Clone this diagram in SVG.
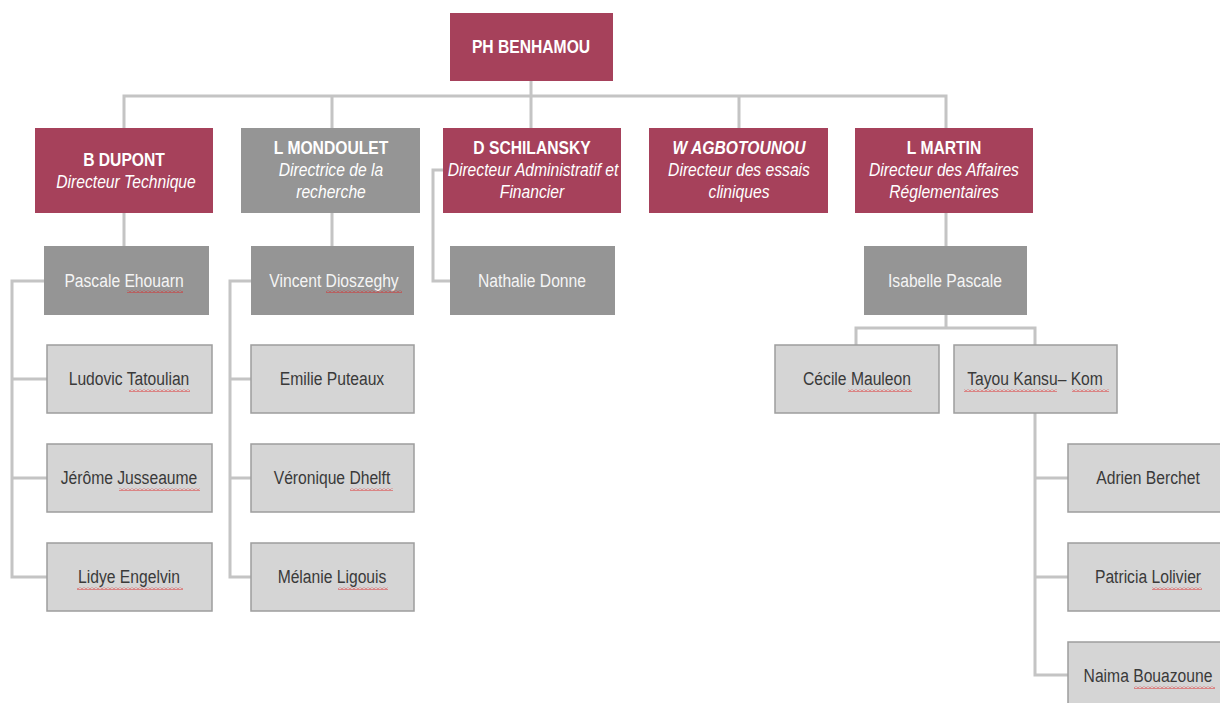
<svg xmlns="http://www.w3.org/2000/svg" width="1220" height="703" viewBox="0 0 1220 703">
<defs>
<style>
.crim{fill:#a6415b;}
.dgray{fill:#959595;}
.lbox{fill:#d5d5d5;stroke:#9d9d9d;stroke-width:1.5;}
.conn{fill:none;stroke:#c4c4c4;stroke-width:3;}
text{font-family:"Liberation Sans",Arial,sans-serif;text-anchor:middle;}
.nm{font-size:18px;font-weight:bold;fill:#ffffff;}
.sub{font-size:18px;font-style:italic;fill:#ffffff;}
.wt{font-size:18px;fill:#f4f4f4;}
.dk{font-size:18px;fill:#3a3a3a;}
</style>
<pattern id="sq" x="0" y="0" width="4" height="3" patternUnits="userSpaceOnUse">
<path d="M0 2.5 L2 0.5 L4 2.5" fill="none" stroke="#e02020" stroke-width="0.9"/>
</pattern>
</defs>
<rect width="1220" height="703" fill="#ffffff"/>
<g id="connectors">
<path class="conn" d="M531 81 V128 M124 128 V96 H946 V128 M332 96 V128 M739 96 V128"/>
<path class="conn" d="M124 213 V246 M332 213 V246 M946 213 V246"/>
<path class="conn" d="M443 170 H433 V281 H450"/>
<path class="conn" d="M44 281 H12 V577 H47 M12 379 H47 M12 478 H47"/>
<path class="conn" d="M251 281 H230 V577 H251 M230 379 H251 M230 478 H251"/>
<path class="conn" d="M946 315 V328 M856 345 V328 H1035 V345"/>
<path class="conn" d="M1035 413 V675 H1068 M1035 478 H1068 M1035 577 H1068"/>
</g>
<g id="ph-benhamou"><rect class="crim" x="450" y="13" width="163" height="68"/><text class="nm" transform="translate(531 53) scale(0.87 1)">PH BENHAMOU</text></g>
<g id="b-dupont"><rect class="crim" x="35" y="128" width="178" height="85"/><text class="nm" transform="translate(124 166) scale(0.87 1)">B DUPONT</text><text class="sub" transform="translate(126 188) scale(0.87 1)">Directeur Technique</text></g>
<g id="l-mondoulet"><rect class="dgray" x="241" y="128" width="179" height="85"/><text class="nm" transform="translate(331 154) scale(0.87 1)">L MONDOULET</text><text class="sub" transform="translate(331 176) scale(0.87 1)">Directrice de la</text><text class="sub" transform="translate(331 198) scale(0.87 1)">recherche</text></g>
<g id="d-schilansky"><rect class="crim" x="443" y="128" width="178" height="85"/><text class="nm" transform="translate(532 154) scale(0.87 1)">D SCHILANSKY</text><text class="sub" transform="translate(533 176) scale(0.87 1)">Directeur Administratif et</text><text class="sub" transform="translate(532 198) scale(0.87 1)">Financier</text></g>
<g id="w-agbotounou"><rect class="crim" x="649" y="128" width="179" height="85"/><text class="nm" font-style="italic" transform="translate(739 154) scale(0.87 1)">W AGBOTOUNOU</text><text class="sub" transform="translate(739 176) scale(0.87 1)">Directeur des essais</text><text class="sub" transform="translate(739 198) scale(0.87 1)">cliniques</text></g>
<g id="l-martin"><rect class="crim" x="855" y="128" width="178" height="85"/><text class="nm" transform="translate(944 154) scale(0.87 1)">L MARTIN</text><text class="sub" transform="translate(944 176) scale(0.87 1)">Directeur des Affaires</text><text class="sub" transform="translate(944 198) scale(0.87 1)">Réglementaires</text></g>
<g id="pascale-ehouarn"><rect class="dgray" x="44" y="246" width="165" height="69"/><text class="wt" transform="translate(124 287) scale(0.87 1)">Pascale Ehouarn</text><rect fill="url(#sq)" x="127" y="290" width="56" height="3"/></g>
<g id="vincent-dioszeghy"><rect class="dgray" x="251" y="246" width="163" height="69"/><text class="wt" transform="translate(334 287) scale(0.87 1)">Vincent Dioszeghy</text><rect fill="url(#sq)" x="326" y="290" width="76" height="3"/></g>
<g id="nathalie-donne"><rect class="dgray" x="450" y="246" width="165" height="69"/><text class="wt" transform="translate(532 287) scale(0.87 1)">Nathalie Donne</text></g>
<g id="isabelle-pascale"><rect class="dgray" x="864" y="246" width="163" height="69"/><text class="wt" transform="translate(945 287) scale(0.87 1)">Isabelle Pascale</text></g>
<g id="ludovic-tatoulian"><rect class="lbox" x="47" y="345" width="165" height="68"/><text class="dk" transform="translate(129 385) scale(0.87 1)">Ludovic Tatoulian</text><rect fill="url(#sq)" x="129" y="389" width="61" height="3"/></g>
<g id="jerome-jusseaume"><rect class="lbox" x="47" y="444" width="165" height="68"/><text class="dk" transform="translate(129 484) scale(0.87 1)">Jérôme Jusseaume</text><rect fill="url(#sq)" x="119" y="488" width="81" height="3"/></g>
<g id="lidye-engelvin"><rect class="lbox" x="47" y="543" width="165" height="68"/><text class="dk" transform="translate(129 583) scale(0.87 1)">Lidye Engelvin</text><rect fill="url(#sq)" x="77" y="587" width="106" height="3"/></g>
<g id="emilie-puteaux"><rect class="lbox" x="251" y="345" width="163" height="68"/><text class="dk" transform="translate(332 385) scale(0.87 1)">Emilie Puteaux</text></g>
<g id="veronique-dhelft"><rect class="lbox" x="251" y="444" width="163" height="68"/><text class="dk" transform="translate(332 484) scale(0.87 1)">Véronique Dhelft</text><rect fill="url(#sq)" x="350" y="488" width="43" height="3"/></g>
<g id="melanie-ligouis"><rect class="lbox" x="251" y="543" width="163" height="68"/><text class="dk" transform="translate(332 583) scale(0.87 1)">Mélanie Ligouis</text><rect fill="url(#sq)" x="338" y="587" width="50" height="3"/></g>
<g id="cecile-mauleon"><rect class="lbox" x="775" y="345" width="164" height="68"/><text class="dk" transform="translate(857 385) scale(0.87 1)">Cécile Mauleon</text><rect fill="url(#sq)" x="848" y="389" width="64" height="3"/></g>
<g id="tayou-kansu-kom"><rect class="lbox" x="954" y="345" width="163" height="68"/><text class="dk" transform="translate(1035 385) scale(0.87 1)">Tayou Kansu– Kom</text><rect fill="url(#sq)" x="964" y="389" width="93" height="3"/><rect fill="url(#sq)" x="1072" y="389" width="37" height="3"/></g>
<g id="adrien-berchet"><rect class="lbox" x="1068" y="444" width="160" height="68"/><text class="dk" transform="translate(1148 484) scale(0.87 1)">Adrien Berchet</text></g>
<g id="patricia-lolivier"><rect class="lbox" x="1068" y="543" width="160" height="68"/><text class="dk" transform="translate(1148 583) scale(0.87 1)">Patricia Lolivier</text><rect fill="url(#sq)" x="1152" y="587" width="50" height="3"/></g>
<g id="naima-bouazoune"><rect class="lbox" x="1068" y="642" width="160" height="68"/><text class="dk" transform="translate(1148 682) scale(0.87 1)">Naima Bouazoune</text><rect fill="url(#sq)" x="1134" y="686" width="81" height="3"/></g>
</svg>
